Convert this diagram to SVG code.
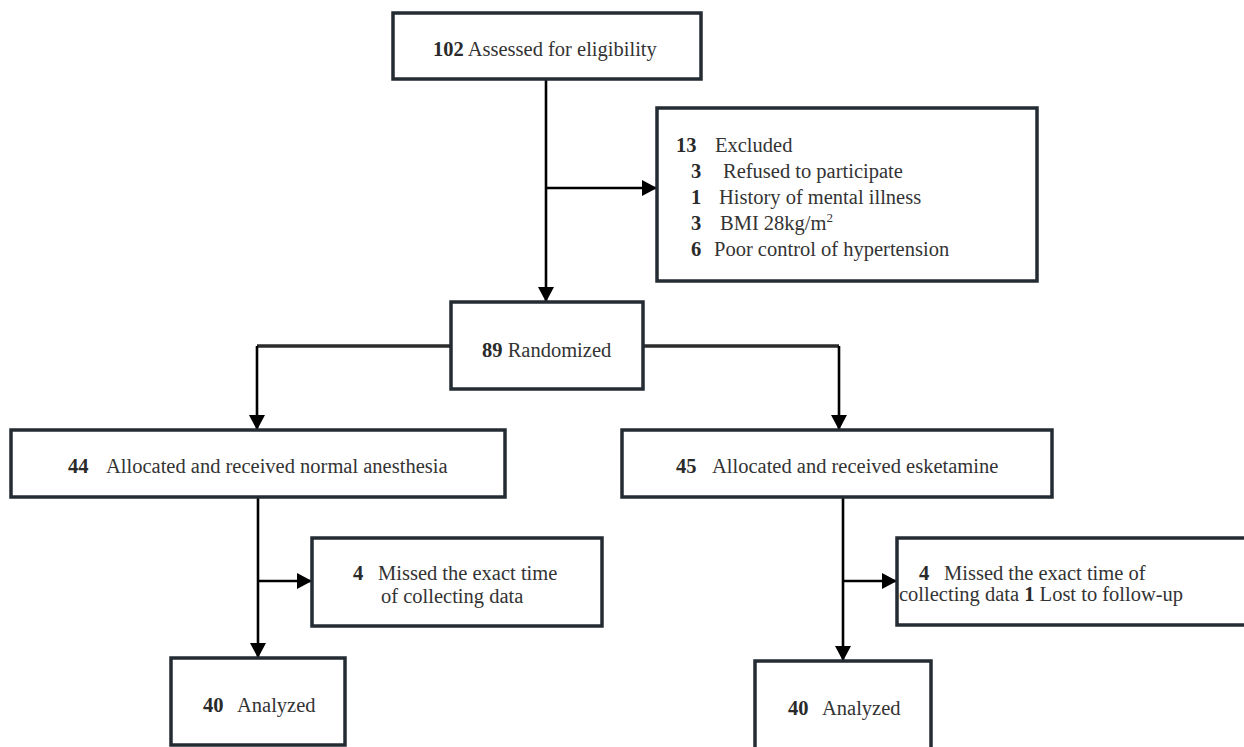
<svg xmlns="http://www.w3.org/2000/svg" width="1244" height="747" viewBox="0 0 1244 747">
<style>
.box{fill:#fff;stroke:#232b33;stroke-width:3.5}
text{font-family:'Liberation Serif','Times New Roman','DejaVu Serif',serif;font-size:20.5px;fill:#333}
.b{font-weight:bold;fill:#2a2a2a}
.c{fill:none;stroke:#000;stroke-width:2.6}
.c2{fill:none;stroke:#2b2b2b;stroke-width:3.6}
</style>
<defs>
<marker id="ah" markerUnits="userSpaceOnUse" markerWidth="16" markerHeight="16" viewBox="0 0 16 16" refX="15" refY="8" orient="auto">
<path d="M0,0 L15,8 L0,16 Z" fill="#000"/>
</marker>
</defs>
<rect width="1244" height="747" fill="#fff"/>
<g id="connectors">
<path class="c" d="M546,79 V302" marker-end="url(#ah)"/>
<path class="c" d="M546,188 H657" marker-end="url(#ah)"/>
<path class="c2" d="M451,346 H257"/>
<path class="c" d="M257,346 V430" marker-end="url(#ah)"/>
<path class="c2" d="M643,346 H839"/>
<path class="c" d="M839,346 V430" marker-end="url(#ah)"/>
<path class="c" d="M258,497 V658" marker-end="url(#ah)"/>
<path class="c" d="M258,581 H312" marker-end="url(#ah)"/>
<path class="c" d="M843,497 V661" marker-end="url(#ah)"/>
<path class="c" d="M843,581 H897" marker-end="url(#ah)"/>
</g>
<g id="assessed">
<rect class="box" x="393" y="13" width="308" height="66"/>
<text x="433" y="56" font-family="Liberation Serif, serif"><tspan class="b">102</tspan> Assessed for eligibility</text>
</g>
<g id="excluded">
<rect class="box" x="657" y="108" width="380" height="173"/>
<text x="676" y="152"><tspan class="b">13</tspan><tspan x="715">Excluded</tspan></text>
<text x="691" y="178"><tspan class="b">3</tspan><tspan x="723">Refused to participate</tspan></text>
<text x="691" y="204"><tspan class="b">1</tspan><tspan x="719">History of mental illness</tspan></text>
<text x="691" y="230"><tspan class="b">3</tspan><tspan x="720">BMI 28kg/m</tspan><tspan font-size="13" dy="-8">2</tspan></text>
<text x="691" y="256"><tspan class="b">6</tspan><tspan x="714">Poor control of hypertension</tspan></text>
</g>
<g id="randomized">
<rect class="box" x="451" y="302" width="192" height="87"/>
<text x="482" y="357"><tspan class="b">89</tspan> Randomized</text>
</g>
<g id="alloc-normal">
<rect class="box" x="11" y="430" width="494" height="67"/>
<text x="68" y="473"><tspan class="b">44</tspan><tspan x="106">Allocated and received normal anesthesia</tspan></text>
</g>
<g id="alloc-esketamine">
<rect class="box" x="622" y="430" width="430" height="67"/>
<text x="676" y="473"><tspan class="b">45</tspan><tspan x="712">Allocated and received esketamine</tspan></text>
</g>
<g id="missed-left">
<rect class="box" x="312" y="538" width="290" height="88"/>
<text x="353" y="580"><tspan class="b">4</tspan><tspan x="378">Missed the exact time</tspan></text>
<text x="381" y="603">of collecting data</text>
</g>
<g id="missed-right">
<rect class="box" x="897" y="538" width="360" height="87"/>
<text x="919" y="580"><tspan class="b">4</tspan><tspan x="944">Missed the exact time of</tspan></text>
<text x="899" y="601">collecting data <tspan class="b">1</tspan> Lost to follow-up</text>
</g>
<g id="analyzed-left">
<rect class="box" x="171" y="658" width="174" height="87"/>
<text x="203" y="712"><tspan class="b">40</tspan><tspan x="237">Analyzed</tspan></text>
</g>
<g id="analyzed-right">
<rect class="box" x="755" y="661" width="176" height="100"/>
<text x="788" y="715"><tspan class="b">40</tspan><tspan x="822">Analyzed</tspan></text>
</g>
</svg>
